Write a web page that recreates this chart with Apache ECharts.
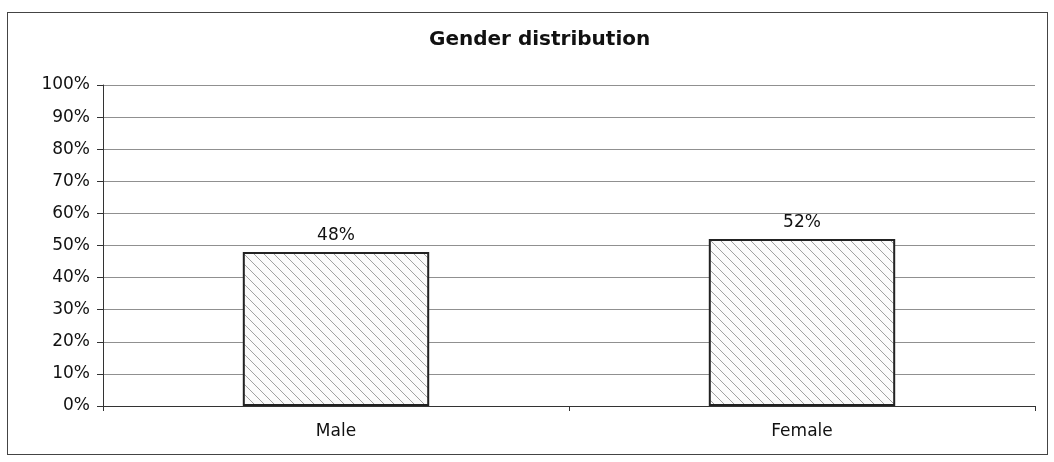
<!DOCTYPE html>
<html>
<head>
<meta charset="utf-8">
<script src="https://cdn.jsdelivr.net/npm/echarts@6/dist/echarts.min.js"></script>
<style>
  html, body { margin: 0; padding: 0; background: #fff; }
  #frame { position: absolute; left: 7px; top: 12px; width: 1041px; height: 443px; border: 1.5px solid #444; box-sizing: border-box; }
  #chart { position: absolute; left: 0; top: 0; width: 1054px; height: 462px; }
</style>
</head>
<body>
<div id="frame"></div>
<div id="chart"></div>
<script>
const title = 'Gender distribution';
const categories = ['Male', 'Female'];
const values = [48, 52];
const yTicks = [0, 10, 20, 30, 40, 50, 60, 70, 80, 90, 100];

const FONT = '"DejaVu Sans", Verdana, sans-serif';

function hatch() {
  const c = document.createElement('canvas');
  const s = 10;
  c.width = s; c.height = s;
  const g = c.getContext('2d');
  g.fillStyle = '#fbfbfb';
  g.fillRect(0, 0, s, s);
  g.strokeStyle = '#a0a0a0';
  g.lineWidth = 1;
  g.beginPath();
  g.moveTo(-1, -1); g.lineTo(s + 1, s + 1);
  g.moveTo(-1, s - 1); g.lineTo(1, s + 1);
  g.moveTo(s - 1, -1); g.lineTo(s + 1, 1);
  g.stroke();
  return c;
}

const chart = echarts.init(document.getElementById('chart'), null, { renderer: 'canvas' });
chart.setOption({
  backgroundColor: 'transparent',
  animation: false,
  title: {
    text: title,
    left: 424,
    top: 25,
    textStyle: { fontFamily: FONT, fontSize: 20, fontWeight: 'bold', color: '#111' }
  },
  grid: { left: 103, right: 19, top: 85, bottom: 56 },
  xAxis: {
    type: 'category',
    data: categories,
    axisLine: { lineStyle: { color: '#333', width: 1 } },
    axisTick: { show: true, alignWithLabel: false, length: 5, lineStyle: { color: '#333' } },
    axisLabel: { margin: 17, fontFamily: FONT, fontSize: 17, color: '#111' }
  },
  yAxis: {
    type: 'value',
    min: yTicks[0],
    max: yTicks[yTicks.length - 1],
    interval: 10,
    axisLine: { show: true, lineStyle: { color: '#333', width: 1 } },
    axisTick: { show: true, inside: false, length: 6, lineStyle: { color: '#333' } },
    axisLabel: { margin: 13, formatter: v => v + '%', fontFamily: FONT, fontSize: 17, color: '#111' },
    splitLine: { show: true, lineStyle: { color: '#909090', width: 1 } }
  },
  series: [{
    type: 'bar',
    data: values,
    barWidth: '40%',
    itemStyle: {
      color: { image: hatch(), repeat: 'repeat' },
      borderColor: '#222',
      borderWidth: 2
    },
    label: {
      show: true,
      position: 'top',
      distance: 8,
      formatter: p => p.value + '%',
      fontFamily: FONT,
      fontSize: 17,
      color: '#111'
    }
  }]
});
</script>
</body>
</html>
